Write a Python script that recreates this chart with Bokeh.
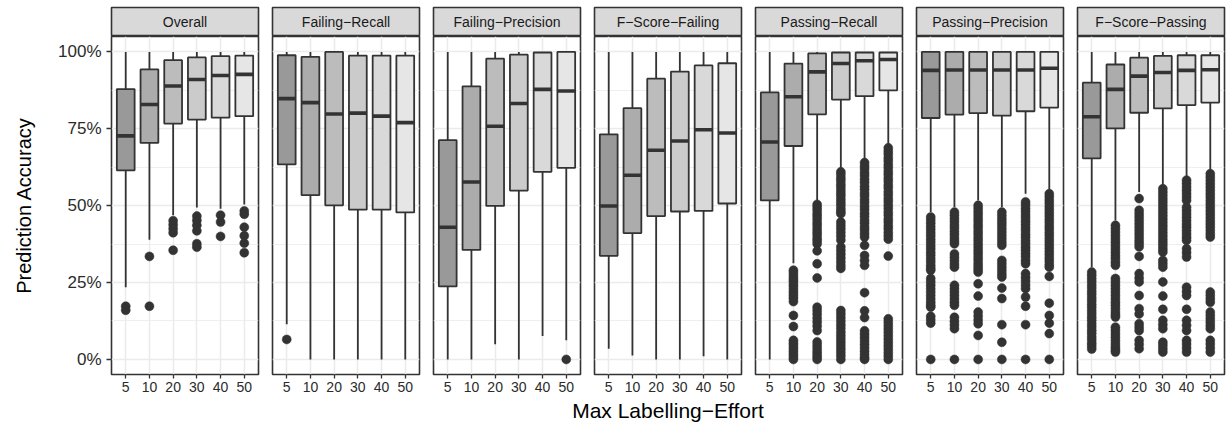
import numpy as np
from bokeh.plotting import figure
from bokeh.layouts import row, column
from bokeh.models import Range1d, LinearAxis, Grid, FixedTicker, NumeralTickFormatter
from bokeh.core.properties import value
from bokeh.embed import file_html
from bokeh.resources import INLINE

# ---------------- data ----------------
efforts = ["5", "10", "20", "30", "40", "50"]
panel_names = ["Overall", "Failing\u2212Recall", "Failing\u2212Precision", "F\u2212Score\u2212Failing",
               "Passing\u2212Recall", "Passing\u2212Precision", "F\u2212Score\u2212Passing"]

whisker_high = [
    [1.0, 1.0, 1.0, 1.0, 1.0, 1.0],
    [1.0, 1.0, 1.0, 1.0, 1.0, 1.0],
    [1.0, 1.0, 1.0, 1.0, 1.0, 1.0],
    [1.0, 1.0, 1.0, 1.0, 1.0, 1.0],
    [1.0, 1.0, 1.0, 1.0, 1.0, 1.0],
    [1.0, 1.0, 1.0, 1.0, 1.0, 1.0],
    [1.0, 1.0, 1.0, 1.0, 1.0, 1.0],
]
box_q3 = [
    [0.879, 0.943, 0.973, 0.982, 0.986, 0.988],
    [0.989, 0.984, 1.000, 0.988, 0.988, 0.988],
    [0.713, 0.888, 0.978, 0.991, 0.998, 1.000],
    [0.732, 0.817, 0.913, 0.936, 0.956, 0.963],
    [0.868, 0.962, 0.995, 0.998, 0.998, 0.998],
    [1.000, 1.000, 1.000, 1.000, 1.000, 1.000],
    [0.900, 0.959, 0.981, 0.987, 0.989, 0.989],
]
box_median = [
    [0.727, 0.829, 0.889, 0.910, 0.923, 0.927],
    [0.848, 0.835, 0.798, 0.801, 0.791, 0.770],
    [0.430, 0.577, 0.758, 0.832, 0.878, 0.873],
    [0.499, 0.599, 0.680, 0.710, 0.747, 0.736],
    [0.707, 0.854, 0.935, 0.962, 0.971, 0.975],
    [0.940, 0.941, 0.941, 0.941, 0.941, 0.947],
    [0.789, 0.878, 0.921, 0.933, 0.940, 0.942],
]
box_q1 = [
    [0.615, 0.704, 0.767, 0.780, 0.786, 0.791],
    [0.634, 0.534, 0.501, 0.487, 0.487, 0.478],
    [0.2375, 0.356, 0.499, 0.549, 0.610, 0.623],
    [0.337, 0.411, 0.466, 0.481, 0.483, 0.507],
    [0.517, 0.694, 0.797, 0.845, 0.856, 0.875],
    [0.785, 0.796, 0.801, 0.793, 0.807, 0.819],
    [0.654, 0.751, 0.802, 0.816, 0.827, 0.835],
]
whisker_low = [
    [0.235, 0.389, 0.469, 0.494, 0.490, 0.504],
    [0.114, 0.0, 0.0, 0.0, 0.0, 0.0],
    [0.0, 0.0, 0.049, 0.0, 0.076, 0.062],
    [0.035, 0.013, 0.0, 0.0, 0.010, 0.0],
    [0.0, 0.313, 0.517, 0.620, 0.648, 0.696],
    [0.479, 0.496, 0.517, 0.496, 0.539, 0.550],
    [0.300, 0.452, 0.544, 0.566, 0.593, 0.615],
]

outliers_overall = [
    [0.173, 0.160],
    [0.335, 0.173],
    [0.451, 0.438, 0.425, 0.412, 0.355],
    [0.466, 0.452, 0.436, 0.418, 0.376, 0.365],
    [0.469, 0.447, 0.400],
    [0.483, 0.472, 0.430, 0.402, 0.378, 0.347],
]
outliers_failing_recall = [[0.065], [], [], [], [], []]
outliers_failing_precision = [[], [], [], [], [], [0.0]]
outliers_fscore_failing = [[], [], [], [], [], []]
outliers_passing_recall = [
    [],
    [0.290, 0.281, 0.271, 0.262, 0.254, 0.244, 0.236, 0.226, 0.217, 0.208, 0.199, 0.188, 0.143, 0.107,
     0.062, 0.053, 0.044, 0.035, 0.026, 0.017, 0.008, 0.0],
    [0.504, 0.495, 0.485, 0.474, 0.465, 0.455, 0.444, 0.435, 0.424, 0.414, 0.405, 0.394, 0.386, 0.376,
     0.353, 0.311, 0.265, 0.170, 0.159, 0.147, 0.134, 0.122, 0.109, 0.094, 0.057, 0.046, 0.036, 0.026,
     0.017, 0.008, 0.0],
    [0.610, 0.601, 0.590, 0.581, 0.570, 0.561, 0.550, 0.540, 0.531, 0.520, 0.510, 0.501, 0.490, 0.481,
     0.474, 0.447, 0.436, 0.425, 0.413, 0.401, 0.388, 0.366, 0.354, 0.342, 0.330, 0.318, 0.306, 0.296,
     0.159, 0.148, 0.136, 0.124, 0.112, 0.101, 0.089, 0.078, 0.067, 0.056, 0.045, 0.034, 0.023, 0.012, 0.0],
    [0.640, 0.629, 0.619, 0.607, 0.597, 0.585, 0.575, 0.563, 0.553, 0.541, 0.531, 0.519, 0.509, 0.497,
     0.487, 0.475, 0.465, 0.453, 0.443, 0.431, 0.421, 0.409, 0.398, 0.371, 0.338, 0.322, 0.306, 0.217,
     0.158, 0.136, 0.093, 0.082, 0.071, 0.060, 0.049, 0.038, 0.027, 0.016, 0.006, 0.0],
    [0.688, 0.677, 0.667, 0.655, 0.645, 0.633, 0.623, 0.611, 0.601, 0.589, 0.579, 0.567, 0.557, 0.545,
     0.535, 0.523, 0.513, 0.501, 0.491, 0.479, 0.469, 0.457, 0.447, 0.435, 0.425, 0.413, 0.402, 0.391,
     0.336, 0.132, 0.121, 0.110, 0.099, 0.088, 0.077, 0.066, 0.055, 0.044, 0.033, 0.022, 0.011, 0.0],
]
outliers_passing_precision = [
    [0.463, 0.453, 0.443, 0.432, 0.422, 0.411, 0.401, 0.390, 0.380, 0.369, 0.359, 0.348, 0.338, 0.327,
     0.317, 0.306, 0.297, 0.290, 0.263, 0.252, 0.241, 0.230, 0.219, 0.208, 0.197, 0.186, 0.176, 0.170,
     0.140, 0.129, 0.118, 0.0],
    [0.479, 0.469, 0.458, 0.448, 0.437, 0.427, 0.416, 0.406, 0.395, 0.385, 0.376, 0.343, 0.332, 0.321,
     0.310, 0.300, 0.241, 0.230, 0.219, 0.208, 0.197, 0.186, 0.176, 0.137, 0.124, 0.112, 0.100, 0.0],
    [0.501, 0.491, 0.480, 0.470, 0.459, 0.449, 0.438, 0.428, 0.417, 0.407, 0.396, 0.386, 0.375, 0.365,
     0.354, 0.344, 0.333, 0.323, 0.312, 0.302, 0.293, 0.284, 0.246, 0.206, 0.154, 0.141, 0.128, 0.116,
     0.078, 0.0],
    [0.479, 0.468, 0.457, 0.446, 0.436, 0.425, 0.414, 0.403, 0.392, 0.381, 0.371, 0.322, 0.311, 0.300,
     0.289, 0.278, 0.268, 0.232, 0.198, 0.113, 0.056, 0.0],
    [0.512, 0.502, 0.491, 0.481, 0.470, 0.460, 0.449, 0.439, 0.428, 0.418, 0.407, 0.397, 0.386, 0.376,
     0.365, 0.355, 0.344, 0.334, 0.322, 0.311, 0.279, 0.267, 0.255, 0.242, 0.230, 0.203, 0.173, 0.113, 0.0],
    [0.539, 0.529, 0.518, 0.508, 0.497, 0.487, 0.476, 0.466, 0.455, 0.445, 0.434, 0.424, 0.413, 0.403,
     0.392, 0.382, 0.371, 0.361, 0.350, 0.340, 0.329, 0.319, 0.308, 0.300, 0.270, 0.183, 0.143, 0.118,
     0.084, 0.0],
]
outliers_fscore_passing = [
    [0.284, 0.274, 0.263, 0.253, 0.242, 0.232, 0.221, 0.211, 0.200, 0.190, 0.179, 0.169, 0.158, 0.148,
     0.137, 0.127, 0.116, 0.106, 0.095, 0.085, 0.074, 0.064, 0.053, 0.044, 0.034],
    [0.436, 0.425, 0.414, 0.403, 0.392, 0.381, 0.370, 0.359, 0.348, 0.337, 0.327, 0.316, 0.306, 0.263,
     0.252, 0.241, 0.230, 0.219, 0.208, 0.197, 0.186, 0.176, 0.165, 0.154, 0.145, 0.138, 0.105, 0.094,
     0.083, 0.072, 0.061, 0.050, 0.040, 0.031, 0.024],
    [0.523, 0.485, 0.474, 0.463, 0.452, 0.441, 0.430, 0.419, 0.408, 0.397, 0.386, 0.376, 0.366, 0.335,
     0.279, 0.265, 0.252, 0.208, 0.165, 0.148, 0.116, 0.105, 0.094, 0.062, 0.049, 0.035],
    [0.555, 0.544, 0.533, 0.522, 0.511, 0.500, 0.489, 0.478, 0.467, 0.456, 0.445, 0.434, 0.423, 0.412,
     0.401, 0.390, 0.380, 0.370, 0.359, 0.349, 0.322, 0.311, 0.300, 0.252, 0.206, 0.163, 0.127, 0.113,
     0.100, 0.056, 0.046, 0.035, 0.024],
    [0.583, 0.572, 0.561, 0.550, 0.539, 0.528, 0.517, 0.495, 0.484, 0.473, 0.462, 0.451, 0.440, 0.430,
     0.419, 0.408, 0.397, 0.387, 0.360, 0.347, 0.333, 0.235, 0.221, 0.208, 0.163, 0.127, 0.111, 0.094,
     0.062, 0.050, 0.037, 0.024],
    [0.604, 0.593, 0.582, 0.571, 0.560, 0.549, 0.538, 0.527, 0.516, 0.505, 0.494, 0.483, 0.472, 0.461,
     0.450, 0.440, 0.430, 0.419, 0.408, 0.398, 0.219, 0.208, 0.197, 0.186, 0.154, 0.143, 0.132, 0.121,
     0.110, 0.100, 0.062, 0.050, 0.037, 0.024],
]
outliers = [outliers_overall, outliers_failing_recall, outliers_failing_precision,
            outliers_fscore_failing, outliers_passing_recall, outliers_passing_precision,
            outliers_fscore_passing]

x_title = "Max Labelling\u2212Effort"
y_title = "Prediction Accuracy"

# ---------------- style ----------------
FONT = "Liberation Sans"
fills = ["#999999", "#ACACAC", "#BCBCBC", "#CBCBCB", "#D9D9D9", "#E6E6E6"]
DARK = "#333333"
GRID = "#EBEBEB"
BOX_W = 0.75
Y0, Y1 = -0.049, 1.05
X0, X1 = 0.4, 6.6
FRAME_W = 147
STRIP_H = 36      # includes 7px top border
PANEL_H = 364     # 338px frame + 26px bottom border
TITLE_H = 24

x_pos = [i + 1 for i in range(len(efforts))]
y_ticks = [0, 0.25, 0.5, 0.75, 1.0]
y_minor = [0.125, 0.375, 0.625, 0.875]

cols = []
widths = []
lefts = []
for i, name in enumerate(panel_names):
    first = i == 0
    last = i == len(panel_names) - 1
    left = 111 if first else 7
    right = 4 if last else 7
    W = left + FRAME_W + right
    widths.append(W)
    lefts.append(left)

    # strip (facet label)
    s = figure(title=None, width=W, height=STRIP_H, x_range=Range1d(X0, X1), y_range=Range1d(0, 1),
               x_axis_type=None, y_axis_type=None, toolbar_location=None, output_backend="svg",
               min_border_left=left, min_border_right=right, min_border_top=7, min_border_bottom=0)
    s.background_fill_color = "#D9D9D9"
    s.border_fill_color = "white"
    s.outline_line_color = DARK
    s.outline_line_width = 1.6
    s.grid.visible = False
    s.text(x=[(X0 + X1) / 2], y=[0.5], text=[name], text_align="center",
           text_baseline="middle", text_font=value(FONT), text_font_size="14px", text_color="#1A1A1A")

    # panel
    p = figure(title=None, width=W, height=PANEL_H, x_range=Range1d(X0, X1), y_range=Range1d(Y0, Y1),
               x_axis_type=None, y_axis_type=None,
               toolbar_location=None, output_backend="svg",
               min_border_left=left, min_border_right=right,
               min_border_top=0, min_border_bottom=26)
    p.background_fill_color = "white"
    p.border_fill_color = "white"
    p.outline_line_color = DARK
    p.outline_line_width = 1.6

    xt = FixedTicker(ticks=x_pos)
    p.add_layout(Grid(dimension=0, ticker=xt, grid_line_color=GRID, grid_line_width=1.5), "center")
    p.add_layout(Grid(dimension=1, ticker=FixedTicker(ticks=y_ticks, minor_ticks=y_minor),
                      grid_line_color=GRID, grid_line_width=1.5,
                      minor_grid_line_color=GRID, minor_grid_line_width=0.8), "center")

    xaxis = LinearAxis(ticker=xt, major_label_overrides={x: e for x, e in zip(x_pos, efforts)})
    xaxis.axis_line_color = None
    xaxis.major_tick_line_color = DARK
    xaxis.major_tick_line_width = 1.3
    xaxis.major_tick_in = 0
    xaxis.major_tick_out = 4
    xaxis.minor_tick_line_color = None
    xaxis.major_label_standoff = 3
    xaxis.major_label_text_font = FONT
    xaxis.major_label_text_font_size = "14px"
    xaxis.major_label_text_color = "#2b2b2b"
    p.add_layout(xaxis, "below")

    if first:
        yaxis = LinearAxis(ticker=FixedTicker(ticks=y_ticks), formatter=NumeralTickFormatter(format="0%"))
        yaxis.axis_line_color = None
        yaxis.major_tick_line_color = DARK
        yaxis.major_tick_line_width = 1.3
        yaxis.major_tick_in = 0
        yaxis.major_tick_out = 5
        yaxis.minor_tick_line_color = None
        yaxis.major_label_standoff = 5
        yaxis.major_label_text_font = FONT
        yaxis.major_label_text_font_size = "17px"
        yaxis.major_label_text_color = "#2b2b2b"
        yaxis.axis_label = y_title
        yaxis.axis_label_standoff = 20
        yaxis.axis_label_text_font = FONT
        yaxis.axis_label_text_font_size = "20px"
        yaxis.axis_label_text_font_style = "normal"
        yaxis.axis_label_text_color = "black"
        p.add_layout(yaxis, "left")

    # outliers
    ox, oy = [], []
    for x, vals in zip(x_pos, outliers[i]):
        ox.extend([x] * len(vals))
        oy.extend(vals)
    if ox:
        p.scatter(ox, oy, size=9, fill_color=DARK, line_color=DARK, line_width=0.5)

    # whiskers
    p.segment(x0=x_pos, y0=box_q3[i], x1=x_pos, y1=whisker_high[i], line_color=DARK, line_width=1.8)
    p.segment(x0=x_pos, y0=whisker_low[i], x1=x_pos, y1=box_q1[i], line_color=DARK, line_width=1.8)
    # boxes
    p.vbar(x=x_pos, width=BOX_W, bottom=box_q1[i], top=box_q3[i], fill_color=fills,
           line_color=DARK, line_width=1.8)
    # medians
    p.segment(x0=[x - BOX_W / 2 for x in x_pos], y0=box_median[i],
              x1=[x + BOX_W / 2 for x in x_pos], y1=box_median[i], line_color=DARK, line_width=3.6)

    cols.append(column(s, p, spacing=0))

# shared x-axis title, centred under the middle panel
total_w = sum(widths)
mid_x = sum(widths[:3]) + lefts[3] + FRAME_W / 2
t = figure(title=None, width=total_w, height=TITLE_H, x_range=Range1d(0, total_w),
           y_range=Range1d(0, TITLE_H),
           x_axis_type=None, y_axis_type=None, toolbar_location=None, output_backend="svg",
           min_border=0, min_border_left=0, min_border_right=0, min_border_top=0, min_border_bottom=0)
t.outline_line_color = None
t.background_fill_color = "white"
t.border_fill_color = "white"
t.grid.visible = False
t.text(x=[mid_x], y=[TITLE_H + 2], text=[x_title], text_align="center", text_baseline="top",
       text_font=value(FONT), text_font_size="21px", text_color="black")

layout = column(row(*cols, spacing=0), t, spacing=0)
open("out.html", "w").write(file_html(layout, INLINE))
